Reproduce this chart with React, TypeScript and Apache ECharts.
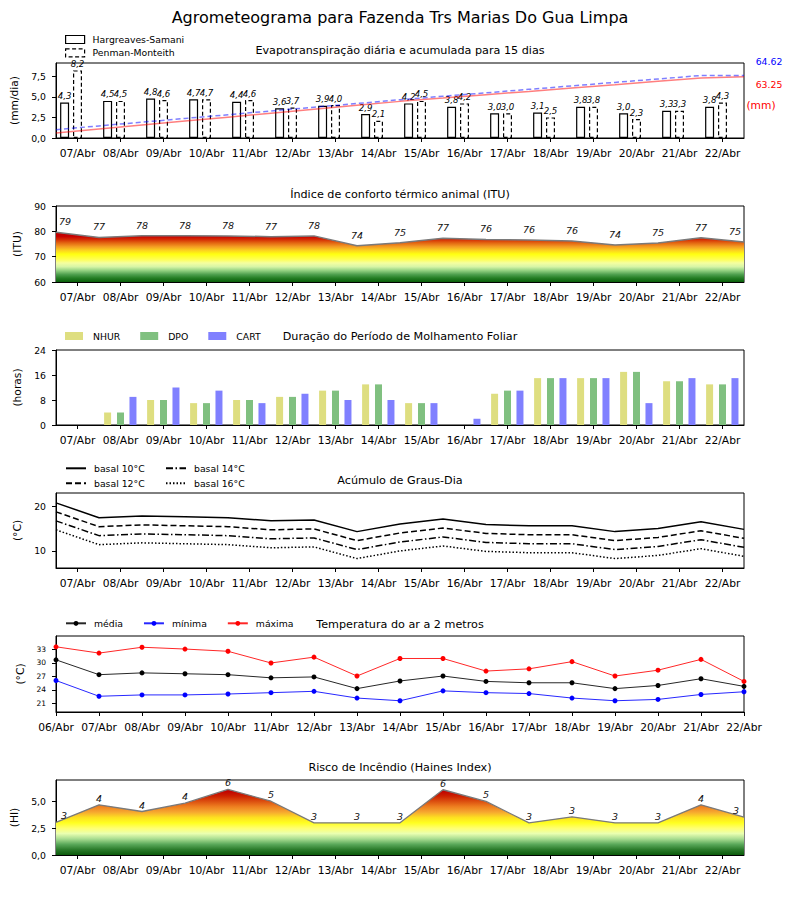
import React, { useEffect, useRef } from "react";
import * as echarts from "echarts";

// ---------- texts ----------
const mainTitle = "Agrometeograma para Fazenda Trs Marias Do Gua Limpa";
const panelTitles = [
  "Evapotranspiração diária e acumulada para 15 dias",
  "Índice de conforto térmico animal (ITU)",
  "Duração do Período de Molhamento Foliar",
  "Acúmulo de Graus-Dia",
  "Temperatura do ar a 2 metros",
  "Risco de Incêndio (Haines Index)",
];
const yNames = ["(mm/dia)", "(ITU)", "(horas)", "(°C)", "(°C)", "(HI)"];

// ---------- categories ----------
const days = [
  "07/Abr", "08/Abr", "09/Abr", "10/Abr", "11/Abr", "12/Abr", "13/Abr", "14/Abr",
  "15/Abr", "16/Abr", "17/Abr", "18/Abr", "19/Abr", "20/Abr", "21/Abr", "22/Abr",
];
const daysTemp = [
  "06/Abr", "07/Abr", "08/Abr", "09/Abr", "10/Abr", "11/Abr", "12/Abr", "13/Abr", "14/Abr",
  "15/Abr", "16/Abr", "17/Abr", "18/Abr", "19/Abr", "20/Abr", "21/Abr", "22/Abr",
];

// ---------- evapotranspiration ----------
const etHargreaves = [4.3, 4.5, 4.8, 4.7, 4.4, 3.6, 3.9, 2.9, 4.2, 3.8, 3.0, 3.1, 3.8, 3.0, 3.3, 3.8];
const etPenman = [8.2, 4.5, 4.6, 4.7, 4.6, 3.7, 4.0, 2.1, 4.5, 4.2, 3.0, 2.5, 3.8, 2.3, 3.3, 4.3];
const etAcumHargreaves = [5.2, 9.3, 13.4, 17.5, 21.5, 25.6, 29.7, 33.8, 37.8, 41.2, 44.7, 48.1, 51.6, 55.0, 58.5, 61.9, 63.25];
const etAcumPenman = [8.6, 12.5, 16.3, 20.2, 24.0, 27.9, 31.8, 35.6, 39.5, 43.1, 46.6, 50.2, 53.8, 57.4, 60.9, 64.5, 64.62];
const etTicks = [0, 2.5, 5, 7.5];

// ---------- ITU ----------
const itu = [79.6, 77.6, 78.3, 78.3, 78.2, 77.9, 78.2, 74.3, 75.5, 77.3, 76.8, 76.6, 76.2, 74.6, 75.4, 77.5, 75.8];
const ituTicks = [60, 70, 80, 90];

// ---------- leaf wetness ----------
const nhur = [0, 4, 8, 7, 8, 9, 11, 13, 7, 0, 10, 15, 15, 17, 14, 13];
const dpo = [0, 4, 8, 7, 8, 9, 11, 13, 7, 0, 11, 15, 15, 17, 14, 13];
const cart = [0, 9, 12, 11, 7, 10, 8, 8, 7, 2, 11, 15, 15, 7, 15, 15];
const horasTicks = [0, 8, 16, 24];

// ---------- degree days ----------
const gd10 = [20.7, 17.4, 17.8, 17.6, 17.4, 16.7, 16.9, 14.3, 16.0, 17.1, 15.9, 15.6, 15.6, 14.3, 15.0, 16.5, 14.8];
const gd12 = [18.7, 15.4, 15.8, 15.6, 15.4, 14.7, 14.9, 12.3, 14.0, 15.1, 13.9, 13.6, 13.6, 12.3, 13.0, 14.5, 12.8];
const gd14 = [16.7, 13.4, 13.8, 13.6, 13.4, 12.7, 12.9, 10.3, 12.0, 13.1, 11.9, 11.6, 11.6, 10.3, 11.0, 12.5, 10.8];
const gd16 = [14.7, 11.4, 11.8, 11.6, 11.4, 10.7, 10.9, 8.3, 10.0, 11.1, 9.9, 9.6, 9.6, 8.3, 9.0, 10.5, 8.8];
const gdTicks = [10, 20];

// ---------- air temperature ----------
const tMedia = [30.7, 27.4, 27.8, 27.6, 27.4, 26.7, 26.9, 24.3, 26.0, 27.1, 25.9, 25.6, 25.6, 24.3, 25.0, 26.5, 24.8];
const tMin = [26.1, 22.6, 22.9, 22.9, 23.1, 23.4, 23.7, 22.2, 21.6, 23.8, 23.4, 23.2, 22.2, 21.6, 21.9, 23.0, 23.6];
const tMax = [33.6, 32.2, 33.5, 33.1, 32.6, 30.0, 31.3, 27.1, 31.0, 31.0, 28.2, 28.7, 30.3, 27.1, 28.4, 30.8, 25.9];
const tempTicks = [21, 24, 27, 30, 33];

// ---------- Haines ----------
const haines = [3.05, 4.68, 4.06, 4.84, 6.12, 5.02, 3.0, 3.0, 3.0, 6.09, 5.0, 3.0, 3.56, 3.0, 3.0, 4.68, 3.53];
const hainesTicks = [0, 2.5, 5];

// ---------- layout / style ----------
const FONT = "DejaVu Sans";
const BLACK = "#000";
const PLOT_LEFT = 56;
const PLOT_W = 688;
const gridTops = [63, 206, 350, 493, 636, 780];
const gridHeights = [75, 76, 75, 75, 76, 75];
const titleTops = [44.5, 189, 330.5, 475, 618.5, 761.5];

const ituStops: [number, string][] = [
  [0, "#0b5e0b"], [0.05, "#237d23"], [0.1, "#4fa04f"], [0.15, "#92d080"],
  [0.2, "#d6f5a6"], [0.25, "#f5ffa0"], [0.3, "#ffff50"], [0.367, "#ffff10"],
  [0.417, "#fcd020"], [0.467, "#f39a22"], [0.517, "#e26210"], [0.56, "#d42a04"],
  [0.6, "#c80000"], [0.667, "#b80000"], [1, "#a00000"],
];
const hainesStops: [number, string][] = [
  [0, "#0b5a0b"], [0.071, "#2a7a2a"], [0.143, "#5aa85a"], [0.214, "#a8dc90"],
  [0.286, "#eaffb0"], [0.357, "#ffff70"], [0.429, "#ffff20"], [0.5, "#fde020"],
  [0.571, "#f6a830"], [0.643, "#ee8020"], [0.714, "#dc5010"], [0.786, "#cc2000"],
  [0.857, "#c00000"], [1, "#b00000"],
];

const comma = (v: number) => v.toFixed(1).replace(".", ",");

function gradient(gi: number, stops: [number, string][]) {
  return {
    type: "linear",
    x: 0,
    y: gridTops[gi] + gridHeights[gi],
    x2: 0,
    y2: gridTops[gi],
    global: true,
    colorStops: stops.map(([o, c]) => ({ offset: o, color: c })),
  };
}

function dayAxis(gridIndex: number, data: string[], boundaryGap = true) {
  return {
    type: "category",
    gridIndex,
    data,
    position: "bottom",
    boundaryGap,
    axisLine: { show: true, onZero: false, lineStyle: { color: BLACK, width: 1 } },
    axisTick: { show: true, alignWithLabel: true, interval: 0, length: 4, lineStyle: { color: BLACK } },
    axisLabel: { show: true, interval: 0, fontSize: 10.7, color: BLACK, margin: 10, fontFamily: FONT },
    splitLine: { show: false },
  };
}
function hiddenCat(gridIndex: number) {
  return {
    type: "category", gridIndex, data: daysTemp, boundaryGap: false, show: false, position: "bottom",
    axisLine: { onZero: false },
  };
}
function hiddenVal(gridIndex: number) {
  return {
    type: "value", gridIndex, min: -0.5, max: days.length - 0.5, show: false, position: "bottom",
    axisLine: { onZero: false },
  };
}
function valAxis(
  gridIndex: number, min: number, max: number, ticks: number[], name: string,
  nameGap: number, fmt?: (v: number) => string, fontSize = 9.3,
) {
  return {
    type: "value",
    gridIndex,
    min,
    max,
    position: "left",
    name,
    nameLocation: "middle",
    nameGap,
    nameRotate: 90,
    nameTextStyle: { fontSize: 10.7, color: BLACK, fontFamily: FONT },
    axisLine: { show: true, onZero: false, lineStyle: { color: BLACK } },
    axisTick: { show: true, length: 4, customValues: ticks, lineStyle: { color: BLACK } },
    axisLabel: {
      customValues: ticks,
      formatter: fmt ? (v: number) => fmt(v) : (v: number) => String(v),
      fontSize,
      color: BLACK,
      margin: 10,
      fontFamily: FONT,
    },
    splitLine: { show: false },
  };
}

function edgeLabelData(values: number[], off: number) {
  return values.map((v, i) =>
    i === 0
      ? { value: v, label: { offset: [off, 0] } }
      : i === values.length - 1
      ? { value: v, label: { offset: [-off, 0] } }
      : v,
  );
}

function buildOption() {
  const legendText = { fontSize: 9.3, color: BLACK, lineHeight: 11, padding: [0, 0, 0, 3], fontFamily: FONT };
  const barLabel = {
    show: true,
    position: "top",
    distance: 2,
    fontSize: 8.6,
    fontStyle: "italic",
    color: BLACK,
    fontFamily: FONT,
    formatter: (p: any) => comma(p.value[1]),
  };
  const gdStyles: [string, number[], any][] = [
    ["basal 10°C", gd10, "solid"],
    ["basal 12°C", gd12, [6, 3]],
    ["basal 14°C", gd14, [7, 2.5, 1.5, 2.5]],
    ["basal 16°C", gd16, [1.5, 2]],
  ];
  const noSymbol = { opacity: 0, borderWidth: 0 };

  const series: any[] = [
    {
      type: "bar", name: "Hargreaves-Samani", xAxisIndex: 1, yAxisIndex: 0,
      data: etHargreaves.map((v, i) => [i - 0.3, v]), barWidth: 9, barGap: "-100%",
      itemStyle: { color: "#fff", borderColor: BLACK, borderWidth: 1.2 }, label: barLabel,
    },
    {
      type: "bar", name: "Penman-Monteith", xAxisIndex: 1, yAxisIndex: 0,
      data: etPenman.map((v, i) => [i, v]), barWidth: 9, barGap: "-100%",
      itemStyle: { color: "#fff", borderColor: BLACK, borderWidth: 1.2, borderType: [4, 2.5] }, label: barLabel,
    },
    {
      type: "line", name: "acum HS", xAxisIndex: 2, yAxisIndex: 1, data: etAcumHargreaves,
      symbol: "none", lineStyle: { color: "rgba(255,0,0,0.5)", width: 1.5 }, z: 5,
    },
    {
      type: "line", name: "acum PM", xAxisIndex: 2, yAxisIndex: 1, data: etAcumPenman,
      symbol: "none", lineStyle: { color: "rgba(0,0,255,0.5)", width: 1.5, type: [5, 3] }, z: 5,
    },
    {
      type: "line", name: "ITU", xAxisIndex: 4, yAxisIndex: 2, data: edgeLabelData(itu, 9),
      symbol: "circle", symbolSize: 1, showSymbol: true, showAllSymbol: true,
      itemStyle: { color: "rgba(0,0,0,0)", borderWidth: 0 },
      lineStyle: { color: "#7a7a7a", width: 1.5 },
      areaStyle: { color: gradient(1, ituStops), opacity: 1, origin: "start" },
      label: {
        show: true, position: "top", distance: 5, fontSize: 9.5, fontStyle: "italic", color: "#111",
        fontFamily: FONT, formatter: (p: any) => String(Math.trunc(p.value)),
      },
    },
    {
      type: "bar", name: "NHUR", xAxisIndex: 6, yAxisIndex: 3, data: nhur.map((v, i) => [i - 0.3, v]),
      barWidth: 7, barGap: "-100%", itemStyle: { color: "#dede80" },
    },
    {
      type: "bar", name: "DPO", xAxisIndex: 6, yAxisIndex: 3, data: dpo.map((v, i) => [i, v]),
      barWidth: 7, barGap: "-100%", itemStyle: { color: "#80c080" },
    },
    {
      type: "bar", name: "CART", xAxisIndex: 6, yAxisIndex: 3, data: cart.map((v, i) => [i + 0.29, v]),
      barWidth: 7, barGap: "-100%", itemStyle: { color: "#8080ff" },
    },
    ...gdStyles.map(([name, data, type]) => ({
      type: "line", name, xAxisIndex: 8, yAxisIndex: 4, data, symbol: "none",
      itemStyle: { color: BLACK }, lineStyle: { color: BLACK, width: 1.5, type },
    })),
    ...([
      ["média", tMedia, "#000000"],
      ["mínima", tMin, "#0000ff"],
      ["máxima", tMax, "#ff0000"],
    ] as [string, number[], string][]).map(([name, data, color]) => ({
      type: "line", name, xAxisIndex: 9, yAxisIndex: 5, data, symbol: "circle", symbolSize: 5,
      showSymbol: true, showAllSymbol: true,
      itemStyle: { color }, lineStyle: { color, width: 1, opacity: 0.85 },
    })),
    {
      type: "line", name: "Haines", xAxisIndex: 11, yAxisIndex: 6, data: edgeLabelData(haines, 8),
      symbol: "circle", symbolSize: 1, showSymbol: true, showAllSymbol: true,
      itemStyle: { color: "rgba(0,0,0,0)", borderWidth: 0 },
      lineStyle: { color: "#7a7a7a", width: 1.3 },
      areaStyle: { color: gradient(5, hainesStops), opacity: 1, origin: "start" },
      label: {
        show: true, position: "top", distance: 1, fontSize: 9.5, fontStyle: "italic", color: "#111",
        fontFamily: FONT, formatter: (p: any) => String(Math.trunc(p.value)),
      },
    },
  ];

  const lastHS = etAcumHargreaves[etAcumHargreaves.length - 1];
  const lastPM = etAcumPenman[etAcumPenman.length - 1];

  return {
    animation: false,
    backgroundColor: "#fff",
    textStyle: { fontFamily: FONT },
    title: [
      {
        text: mainTitle, left: "center", top: 9, padding: 0,
        textStyle: { fontSize: 16, fontWeight: "normal", color: BLACK, fontFamily: FONT },
      },
      ...panelTitles.map((t, i) => ({
        text: t, left: "center", top: titleTops[i], padding: 0,
        textStyle: { fontSize: 11.2, fontWeight: "normal", color: BLACK, fontFamily: FONT },
      })),
    ],
    legend: [
      {
        orient: "vertical", left: 65, top: 34, padding: 0, itemWidth: 19, itemHeight: 8, itemGap: 2.4, icon: "rect",
        selectedMode: false, textStyle: legendText,
        data: [
          { name: "Hargreaves-Samani", itemStyle: { color: "#fff", borderColor: BLACK, borderWidth: 1.2 } },
          {
            name: "Penman-Monteith",
            itemStyle: { color: "#fff", borderColor: BLACK, borderWidth: 1.2, borderType: [4, 2.5] },
          },
        ],
      },
      {
        orient: "horizontal", left: 65, top: 330.5, padding: 0, itemWidth: 18, itemHeight: 8, itemGap: 20, icon: "rect",
        selectedMode: false, textStyle: { ...legendText, padding: [0, 0, 0, 5] },
        data: ["NHUR", "DPO", "CART"],
      },
      {
        orient: "vertical", left: 65, top: 462.8, padding: 0, itemWidth: 20, itemHeight: 10, itemGap: 4,
        selectedMode: false, textStyle: legendText,
        data: [
          { name: "basal 10°C", itemStyle: noSymbol },
          { name: "basal 12°C", itemStyle: noSymbol },
        ],
      },
      {
        orient: "vertical", left: 165, top: 462.8, padding: 0, itemWidth: 20, itemHeight: 10, itemGap: 4,
        selectedMode: false, textStyle: legendText,
        data: [
          { name: "basal 14°C", itemStyle: noSymbol },
          { name: "basal 16°C", itemStyle: noSymbol },
        ],
      },
      {
        orient: "horizontal", left: 65, top: 617.8, padding: 0, itemWidth: 20, itemHeight: 6, itemGap: 20,
        selectedMode: false, textStyle: legendText, data: ["média", "mínima", "máxima"],
      },
    ],
    grid: gridTops.map((t, i) => ({
      left: PLOT_LEFT, width: PLOT_W, top: t, height: gridHeights[i], show: true,
      borderColor: BLACK, borderWidth: 1, backgroundColor: "rgba(0,0,0,0)",
    })),
    xAxis: [
      dayAxis(0, days), hiddenVal(0), hiddenCat(0),
      dayAxis(1, days), hiddenCat(1),
      dayAxis(2, days), hiddenVal(2),
      dayAxis(3, days), hiddenCat(3),
      dayAxis(4, daysTemp, false),
      dayAxis(5, days), hiddenCat(5),
    ],
    yAxis: [
      valAxis(0, 0, 9.1, etTicks, yNames[0], 32, comma),
      { type: "value", gridIndex: 0, min: 0, max: 77.4, show: false, position: "right", axisLine: { onZero: false } },
      valAxis(1, 60, 90, ituTicks, yNames[1], 28),
      valAxis(2, 0, 24, horasTicks, yNames[2], 28),
      valAxis(3, 6.2, 22.9, gdTicks, yNames[3], 28),
      valAxis(4, 19.1, 36, tempTicks, yNames[4], 28, undefined, 7.5),
      valAxis(5, 0, 7, hainesTicks, yNames[5], 34, comma),
    ],
    graphic: [
      {
        type: "text", x: 769, y: 61,
        style: { text: lastPM.toFixed(2), fill: "#0000ff", fontSize: 9.3, fontFamily: FONT, align: "center", verticalAlign: "middle" },
      },
      {
        type: "text", x: 769, y: 84.5,
        style: { text: lastHS.toFixed(2), fill: "#ff0000", fontSize: 9.3, fontFamily: FONT, align: "center", verticalAlign: "middle" },
      },
      {
        type: "text", x: 761, y: 105,
        style: { text: "(mm)", fill: "#ff0000", fontSize: 10.7, fontFamily: FONT, align: "center", verticalAlign: "middle" },
      },
    ],
    series,
  };
}

export default function App() {
  const ref = useRef<HTMLDivElement>(null);
  useEffect(() => {
    if (!ref.current) return;
    const chart = echarts.init(ref.current, null, { renderer: "svg" });
    chart.setOption(buildOption() as any);
    return () => chart.dispose();
  }, []);
  return (
    <div
      ref={ref}
      style={{ position: "fixed", left: 0, top: 0, width: 800, height: 900, background: "#fff" }}
    />
  );
}
